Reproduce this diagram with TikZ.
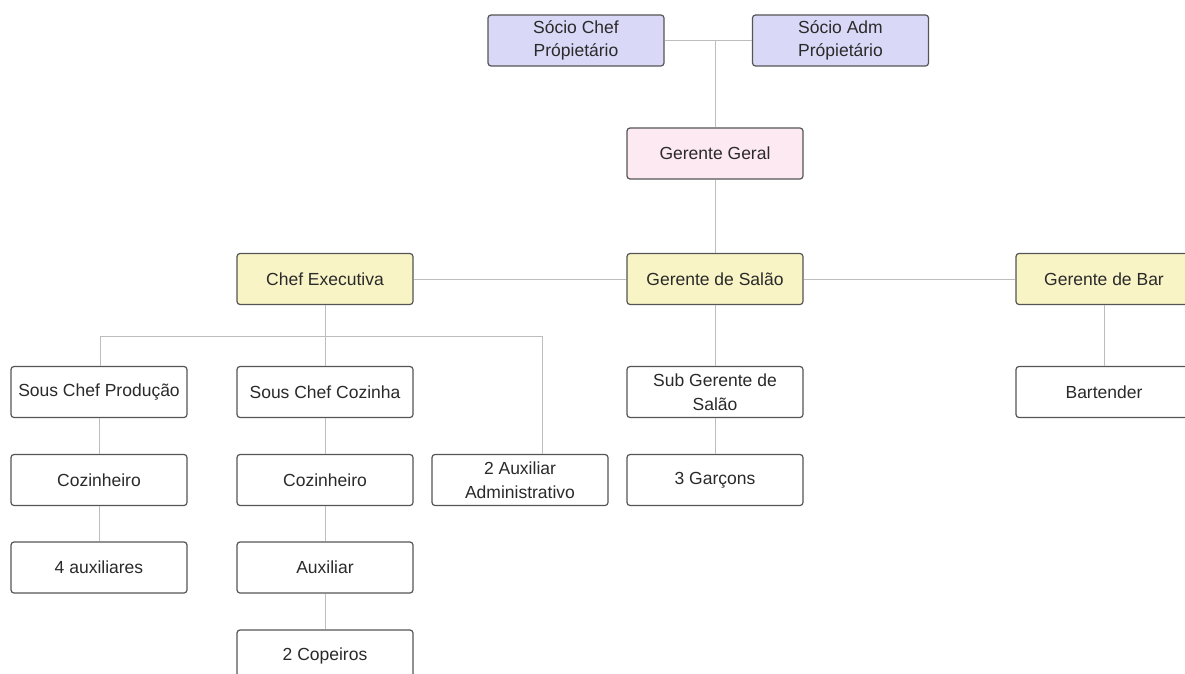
\documentclass[tikz,border=0pt]{standalone}
\usepackage{fontspec}
\setmainfont{Liberation Sans}
\definecolor{boxline}{HTML}{555555}
\definecolor{linkline}{HTML}{BDBDBD}
\definecolor{txt}{HTML}{2A2A2A}
\definecolor{socio}{HTML}{D9D9F7}
\definecolor{geral}{HTML}{FCE9F1}
\definecolor{gerente}{HTML}{F8F4C6}
\begin{document}
\begin{tikzpicture}[x=1pt, y=-1pt,
    box/.style={draw=boxline, line width=1.2pt, rounded corners=3pt, fill=white,
        minimum width=176pt, minimum height=51pt, inner sep=0pt, align=center,
        text=txt, font=\fontsize{17.5}{23.5}\selectfont},
    link/.style={draw=linkline, line width=1pt}]
    \useasboundingbox (0, 0) rectangle (1185, 674);
    \fill[white] (0, 0) rectangle (1185, 674);
    \node[box, fill=socio] (sc) at (576, 40.5) {Sócio Chef\\Própietário};
    \node[box, fill=socio] (sa) at (840.5, 40.5) {Sócio Adm\\Própietário};
    \node[box, fill=geral] (gg) at (715, 153.5) {Gerente Geral};
    \node[box, fill=gerente] (ce) at (325, 279) {Chef Executiva};
    \node[box, fill=gerente] (gs) at (715, 279) {Gerente de Salão};
    \node[box, fill=gerente] (gb) at (1104, 279) {Gerente de Bar};
    \node[box] (scp) at (99, 392) {Sous Chef Produção};
    \node[box] (scc) at (325, 392) {Sous Chef Cozinha};
    \node[box] (sg) at (715, 392) {Sub Gerente de\\Salão};
    \node[box] (bt) at (1104, 392) {Bartender};
    \node[box] (coza) at (99, 480) {Cozinheiro};
    \node[box] (cozb) at (325, 480) {Cozinheiro};
    \node[box] (adm) at (520, 480) {2 Auxiliar\\Administrativo};
    \node[box] (gar) at (715, 480) {3 Garçons};
    \node[box] (auxa) at (99, 567.5) {4 auxiliares};
    \node[box] (auxb) at (325, 567.5) {Auxiliar};
    \node[box] (cop) at (325, 655.5) {2 Copeiros};
    \coordinate (top) at (gg.north |- sc.east);
    \coordinate (brl) at (100, 336);
    \coordinate (brr) at (542, 336);
    \draw[link] (sc.east) -- (sa.west);
    \draw[link] (top) -- (gg.north);
    \draw[link] (gg.south) -- (gs.north);
    \draw[link] (ce.east) -- (gs.west);
    \draw[link] (gs.east) -- (gb.west);
    \draw[link] (ce.south) -- (ce.south |- brl);
    \draw[link] (brl) -- (brr);
    \draw[link] (brl) -- (brl |- scp.north);
    \draw[link] (scc.north |- brl) -- (scc.north);
    \draw[link] (brr) -- (brr |- adm.north);
    \draw[link] (scp.south) -- (coza.north);
    \draw[link] (coza.south) -- (auxa.north);
    \draw[link] (scc.south) -- (cozb.north);
    \draw[link] (cozb.south) -- (auxb.north);
    \draw[link] (auxb.south) -- (cop.north);
    \draw[link] (gs.south) -- (sg.north);
    \draw[link] (sg.south) -- (gar.north);
    \draw[link] (gb.south) -- (bt.north);
\end{tikzpicture}
\end{document}
